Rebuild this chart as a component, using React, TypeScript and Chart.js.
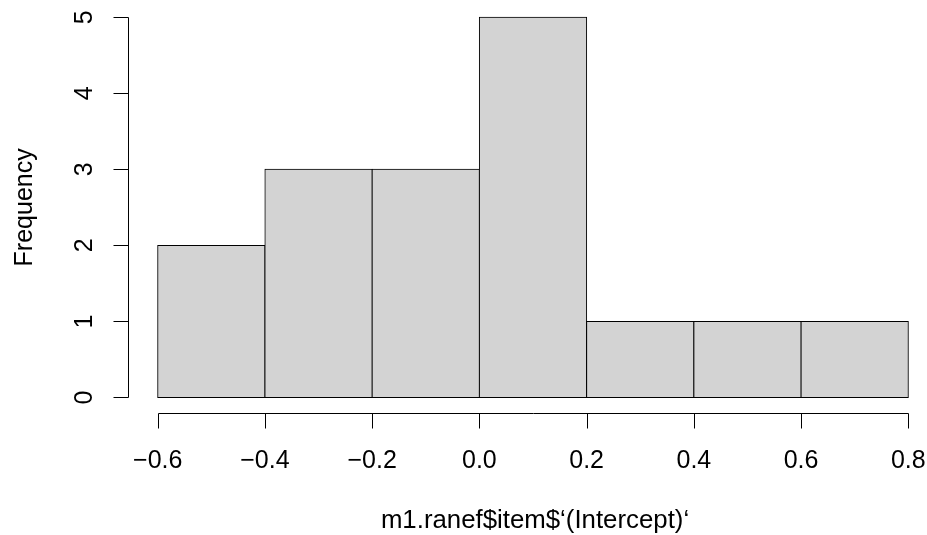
import React, { useEffect, useRef } from "react";
import { Chart, registerables } from "chart.js";

Chart.register(...registerables);

const binEdges = [-0.6, -0.4, -0.2, 0.0, 0.2, 0.4, 0.6, 0.8];
const frequencies = [2, 3, 3, 5, 1, 1, 1];
const xTickValues = [-0.6, -0.4, -0.2, 0.0, 0.2, 0.4, 0.6, 0.8];
const xTickLabels = ["\u22120.6", "\u22120.4", "\u22120.2", "0.0", "0.2", "0.4", "0.6", "0.8"];
const yTickValues = [0, 1, 2, 3, 4, 5];
const yTickLabels = ["0", "1", "2", "3", "4", "5"];
const xTitle = "m1.ranef$item$\u2018(Intercept)\u2018";
const yTitle = "Frequency";

const FONT = "25px 'Liberation Sans', Arial, sans-serif";

const axesPlugin = {
  id: "rAxes",
  afterDraw(chart: any) {
    const ctx = chart.ctx;
    const xs = chart.scales.x;
    const ys = chart.scales.y;
    const area = chart.chartArea;
    const snap = (v: number) => Math.round(v) + 0.5;
    ctx.save();
    ctx.strokeStyle = "#000";
    ctx.fillStyle = "#000";
    ctx.lineWidth = 1;
    ctx.font = FONT;

    // x axis
    const axY = snap(area.bottom);
    const tick = 15;
    ctx.beginPath();
    ctx.moveTo(snap(xs.getPixelForValue(xTickValues[0])), axY);
    ctx.lineTo(snap(xs.getPixelForValue(xTickValues[xTickValues.length - 1])), axY);
    xTickValues.forEach((v) => {
      const px = snap(xs.getPixelForValue(v));
      ctx.moveTo(px, axY);
      ctx.lineTo(px, axY + tick);
    });
    ctx.stroke();
    ctx.textAlign = "center";
    ctx.textBaseline = "alphabetic";
    xTickValues.forEach((v, i) => {
      ctx.fillText(xTickLabels[i], xs.getPixelForValue(v), area.bottom + 55.5);
    });

    // y axis
    const axX = snap(area.left);
    ctx.beginPath();
    ctx.moveTo(axX, snap(ys.getPixelForValue(yTickValues[0])));
    ctx.lineTo(axX, snap(ys.getPixelForValue(yTickValues[yTickValues.length - 1])));
    yTickValues.forEach((v) => {
      const py = snap(ys.getPixelForValue(v));
      ctx.moveTo(axX, py);
      ctx.lineTo(axX - tick, py);
    });
    ctx.stroke();
    yTickValues.forEach((v, i) => {
      ctx.save();
      ctx.translate(area.left - 36.5, ys.getPixelForValue(v));
      ctx.rotate(-Math.PI / 2);
      ctx.textAlign = "center";
      ctx.textBaseline = "alphabetic";
      ctx.fillText(yTickLabels[i], 0, 0);
      ctx.restore();
    });

    // titles
    ctx.textAlign = "center";
    ctx.textBaseline = "alphabetic";
    ctx.font = "25.8px 'Liberation Sans', Arial, sans-serif";
    ctx.fillText(xTitle, xs.getPixelForValue(0.1) + 2, area.bottom + 115.5);
    ctx.font = FONT;
    ctx.save();
    ctx.translate(32, (area.top + area.bottom) / 2);
    ctx.rotate(-Math.PI / 2);
    ctx.fillText(yTitle, 0, 0);
    ctx.restore();
    ctx.restore();
  },
};

export default function App() {
  const ref = useRef<HTMLCanvasElement | null>(null);
  useEffect(() => {
    document.body.style.margin = "0";
    document.body.style.background = "#fff";
    const canvas = ref.current;
    if (!canvas) return;
    const centers = frequencies.map((_, i) => (binEdges[i] + binEdges[i + 1]) / 2);
    const chart = new Chart(canvas, {
      type: "bar",
      data: {
        datasets: [
          {
            data: frequencies.map((f, i) => ({ x: centers[i], y: f })),
            backgroundColor: "#D3D3D3",
            borderColor: "#000000",
            borderWidth: 1,
            borderSkipped: false,
            inflateAmount: 0.5,
            barPercentage: 1,
            categoryPercentage: 1,
          } as any,
        ],
      },
      options: {
        responsive: false,
        animation: false,
        devicePixelRatio: 1,
        layout: { padding: { left: 128, top: 2, right: 7, bottom: 122.3 } },
        plugins: { legend: { display: false }, tooltip: { enabled: false } },
        scales: {
          x: { type: "linear", min: -0.6554, max: 0.8218, offset: false, display: false },
          y: { type: "linear", min: -0.2, max: 5.2, display: false },
        },
      },
      plugins: [axesPlugin],
    });
    return () => chart.destroy();
  }, []);
  return (
    <div style={{ position: "absolute", left: 0, top: 0, width: 927, height: 535, background: "#fff" }}>
      <canvas ref={ref} width={927} height={535} style={{ display: "block" }} />
    </div>
  );
}
